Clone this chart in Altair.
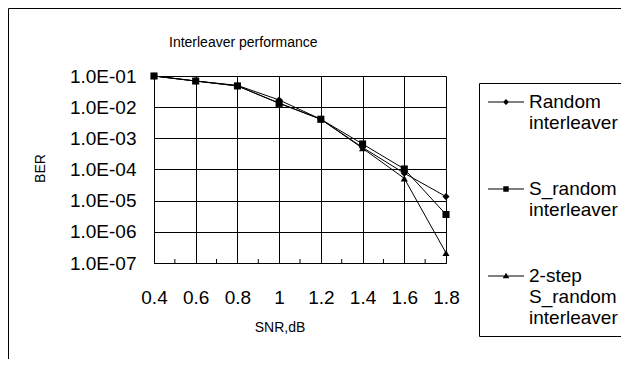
import altair as alt
import pandas as pd

# ---- data ----
snr = [0.4, 0.6, 0.8, 1.0, 1.2, 1.4, 1.6, 1.8]
ber_random = [1.0e-1, 6.9e-2, 5.0e-2, 1.7e-2, 4.1e-3, 5.1e-4, 7.6e-5, 1.35e-5]
ber_srandom = [1.0e-1, 6.9e-2, 4.8e-2, 1.33e-2, 4.1e-3, 6.6e-4, 1.04e-4, 3.6e-6]
ber_2step = [1.0e-1, 6.9e-2, 4.8e-2, 1.35e-2, 4.1e-3, 4.8e-4, 5.2e-5, 2.1e-7]
series_names = ["Random interleaver", "S_random interleaver", "2-step S_random interleaver"]
x_ticks = [0.4, 0.6, 0.8, 1.0, 1.2, 1.4, 1.6, 1.8]
x_minor = [0.5, 0.7, 0.9, 1.1, 1.3, 1.5, 1.7]
y_ticks = [1e-7, 1e-6, 1e-5, 1e-4, 1e-3, 1e-2, 1e-1]
chart_title = "Interleaver performance"

rows = []
for name, vals in zip(series_names, [ber_random, ber_srandom, ber_2step]):
    for s, b in zip(snr, vals):
        rows.append({"snr": s, "ber": b, "series": name})
df = pd.DataFrame(rows)
minor_df = pd.DataFrame({"snr": x_minor})

FONT = "Liberation Sans"
W, H = 292, 187

xscale = alt.Scale(domain=[0.4, 1.8], nice=False, zero=False)
yscale = alt.Scale(type="log", domain=[1e-7, 1e-1], nice=False)

xaxis = alt.Axis(values=x_ticks, format="~g", grid=True, tickSize=0,
                 labelPadding=25, labelFontSize=19, labelFlush=False,
                 title="SNR,dB", titleFontSize=14, titleFontWeight="normal",
                 titleX=125.5, titleY=64.5, titleBaseline="middle", titleAlign="center")
yaxis = alt.Axis(values=y_ticks, labelExpr="'1.0E-0' + round(-log(datum.value)/LN10)",
                 grid=True, tickSize=0, labelPadding=18, labelFontSize=19,
                 title="BER", titleFontSize=14, titleFontWeight="normal",
                 titleX=-114, titleY=92, titleBaseline="middle", titleAlign="center",
                 titleAngle=270)

# legend symbols: a filled thin bar (the line) plus the marker, 10 px per path unit
LINE = "M-1.8,-0.05L1.8,-0.05L1.8,0.05L-1.8,0.05Z"
legend_paths = [
    LINE + "M0,-0.3L0.3,0L0,0.3L-0.3,0Z",
    LINE + "M-0.27,-0.27L0.27,-0.27L0.27,0.27L-0.27,0.27Z",
    LINE + "M0,-0.33L0.33,0.22L-0.33,0.22Z",
]
PAD = "\u00a0" * 12
label_expr = (
    "datum.label == 'Random interleaver' ? ['Random', 'interleaver" + PAD + "'] : "
    "datum.label == 'S_random interleaver' ? ['S_random', 'interleaver" + PAD + "'] : "
    "['2-step', 'S_random', 'interleaver" + PAD + "']"
)

legend = alt.Legend(
    title=None, orient="none", legendX=325, legendY=7,
    padding=8, strokeColor="black", fillColor="white",
    symbolSize=400, symbolOffset=8, labelOffset=12, labelFontSize=19, labelFont=FONT,
    labelColor="black", labelExpr=label_expr, rowPadding=45, labelLimit=500,
    symbolFillColor="black", symbolOpacity=1,
)

base = alt.Chart(df)

lines = base.mark_line(color="black", strokeWidth=1).encode(
    x=alt.X("snr:Q", scale=xscale, axis=xaxis),
    y=alt.Y("ber:Q", scale=yscale, axis=yaxis),
    detail="series:N",
)

points = base.mark_point(filled=True, color="black", opacity=1, size=50).encode(
    x=alt.X("snr:Q", scale=xscale),
    y=alt.Y("ber:Q", scale=yscale),
    shape=alt.Shape("series:N",
                    scale=alt.Scale(domain=series_names,
                                    range=["diamond", "square", "triangle-up"]),
                    legend=None),
)

legend_layer = base.transform_filter("datum.snr < 0").mark_point(
    filled=True, color="black", opacity=1, size=400
).encode(
    x=alt.X("snr:Q", scale=xscale),
    y=alt.Y("ber:Q", scale=yscale),
    shape=alt.Shape("series:N",
                    scale=alt.Scale(domain=series_names, range=legend_paths),
                    legend=legend),
)

minor = alt.Chart(minor_df).mark_rule(color="black", strokeWidth=1).encode(
    x=alt.X("snr:Q", scale=xscale),
    y=alt.value(H),
    y2=alt.value(H - 4),
)

frame_df = pd.DataFrame({"k": [0]})
frame_top = alt.Chart(frame_df).mark_rule(color="black", strokeWidth=1).encode(
    x=alt.value(-145.5), x2=alt.value(500), y=alt.value(-67.5))
frame_left = alt.Chart(frame_df).mark_rule(color="black", strokeWidth=1).encode(
    x=alt.value(-145.5), y=alt.value(-67.5), y2=alt.value(320))

title_layer = alt.Chart(pd.DataFrame({"t": [chart_title]})).mark_text(
    align="left", baseline="alphabetic", fontSize=14, font=FONT, color="black"
).encode(text="t:N", x=alt.value(15), y=alt.value(-29))

chart = alt.layer(frame_top, frame_left, lines, minor, points, legend_layer,
                  title_layer).resolve_scale(
    shape="independent"
).properties(
    width=W, height=H,
    autosize=alt.AutoSizeParams(type="none"),
    padding={"left": 146, "top": 68, "right": 175, "bottom": 96},
    background="white",
).configure_view(stroke=None).configure_axis(
    domainColor="black", gridColor="black", gridOpacity=1,
    labelColor="black", titleColor="black", labelFont=FONT, titleFont=FONT,
)

chart.save("out.html", embed_options={"renderer": "svg", "actions": False})
